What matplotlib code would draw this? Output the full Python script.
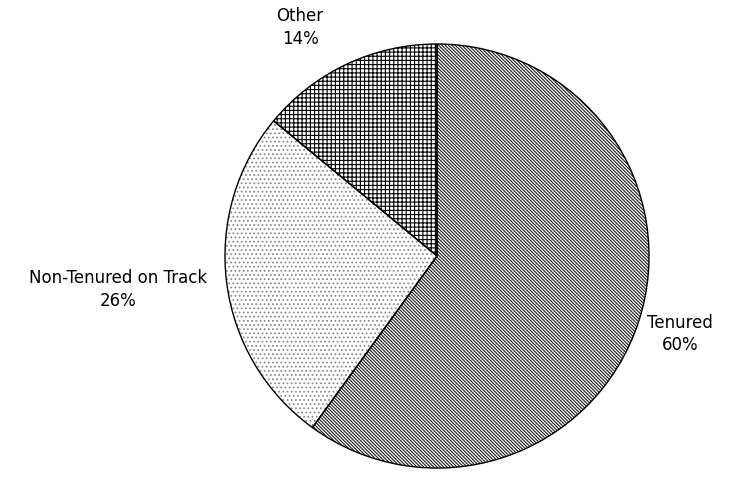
import matplotlib
matplotlib.use("Agg")
import matplotlib.pyplot as plt

categories = ["Tenured", "Non-Tenured on Track", "Other"]
values = [60, 26, 14]
pct_labels = ["60%", "26%", "14%"]

hatches = ["\\" * 10, "....", "++++"]
hatch_colors = ["#1a1a1a", "#8a8a8a", "#000000"]

plt.rcParams["font.family"] = ["DejaVu Sans"]
plt.rcParams["hatch.linewidth"] = 0.8

fig = plt.figure(figsize=(7.29, 4.78), dpi=100)
ax = fig.add_axes([0, 0, 1, 1])

# hatch layer
wedges, _ = ax.pie(values, startangle=90, counterclock=False, radius=1,
                   colors=["white"] * 3)
for w, h, c in zip(wedges, hatches, hatch_colors):
    w.set_hatch(h)
    w.set_edgecolor(c)
    w.set_linewidth(0)

# outline layer
ax.pie(values, startangle=90, counterclock=False, radius=1,
       wedgeprops=dict(fill=False, edgecolor="black", linewidth=1.0))

ax.set_aspect("equal")
ax.set_xlim(-2.061, 1.377)
ax.set_ylim(-1.047, 1.2075)
ax.axis("off")

label_pos = {"Tenured": (1.146, -0.368),
             "Non-Tenured on Track": (-1.505, -0.160),
             "Other": (-0.646, 1.078)}
for cat, p in zip(categories, pct_labels):
    x, y = label_pos[cat]
    ax.text(x, y, f"{cat}\n{p}", ha="center", va="center", fontsize=12,
            linespacing=1.35)

fig.savefig("out.png", dpi=100)
